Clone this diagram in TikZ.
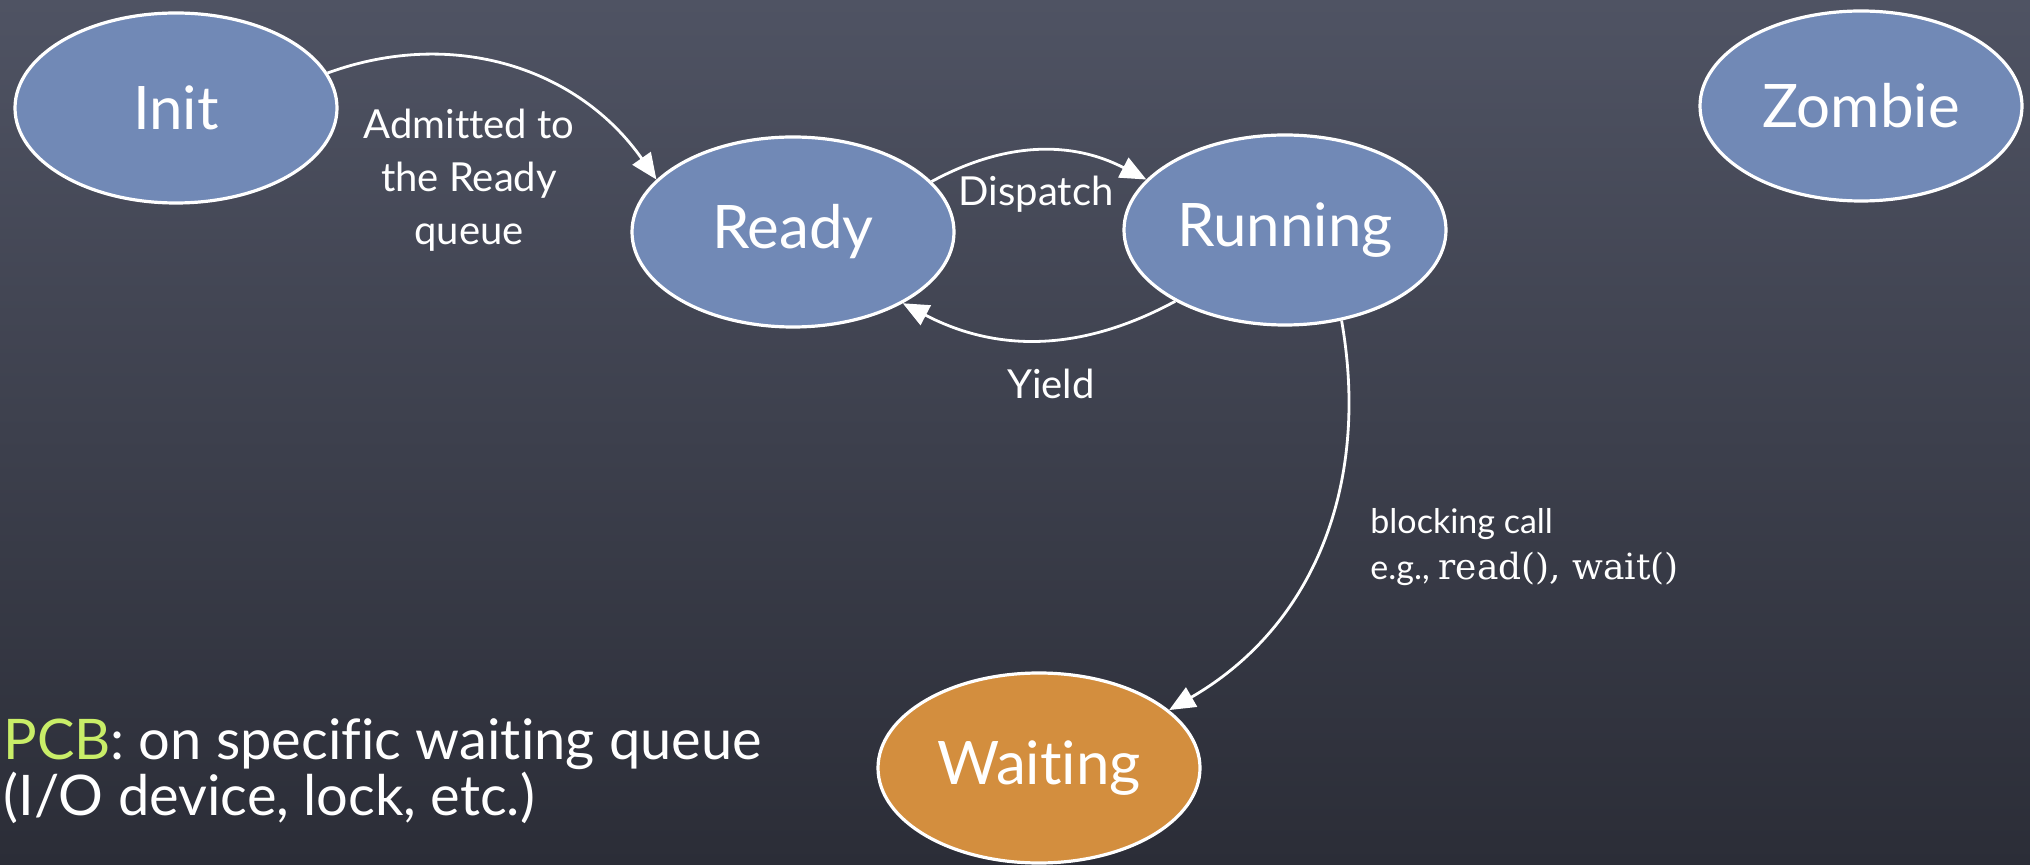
\documentclass[tikz,border=0pt]{standalone}
\usepackage{fontspec}
\setmainfont{Lato}[Ligatures={NoCommon}]
\newfontfamily\slabfont{DejaVu Serif}
\usetikzlibrary{arrows.meta,shapes.geometric}
\definecolor{bgtop}{HTML}{4F5363}
\definecolor{bgbot}{HTML}{2B2D37}
\definecolor{stateblue}{HTML}{7189B6}
\definecolor{waitorange}{HTML}{D38E3E}
\definecolor{pcbgreen}{HTML}{C9EE68}
\begin{document}
\begin{tikzpicture}[x=0.5pt,y=0.5pt,
  state/.style={ellipse, draw=white, line width=1.6pt, fill=stateblue, text=white,
    font=\fontsize{30}{36}\selectfont, inner sep=0pt,
    minimum width=161pt, minimum height=95pt},
  chalk/.style={draw=white, line width=1.4pt, -{Triangle[length=13pt,width=11pt]}},
  lbl/.style={text=white, font=\fontsize{20}{26.5}\selectfont, inner sep=1pt}]
\fill[top color=bgtop, bottom color=bgbot] (0,0) rectangle (2030,-865);
\useasboundingbox (0,0) rectangle (2030,-865);

\node[state] (init) at (176,-108) {Init};
\node[state] (ready) at (793,-232) {Ready};
\node[state] (running) at (1285,-230) {Running};
\node[state] (zombie) at (1861,-106) {Zombie};
\node[state, fill=waitorange] (waiting) at (1039,-768) {Waiting};

\draw[chalk] (init.13) to[out=20, in=125] (ready.159);
\draw[chalk] (ready.20) to[bend left=28] (running.160);
\draw[chalk] (running.-147) to[bend left=28] (ready.-33);
\draw[chalk] (running.-58) to[out=-80, in=30] (waiting.24);

\node[lbl, align=center] (admlbl) at (469,-180) {Admitted to\\the Ready\\queue};
\node[lbl] (displbl) at (1036,-194) {Dispatch};
\node[lbl] (yieldlbl) at (1051,-384) {Yield};
\node[lbl, align=left, anchor=west, font=\fontsize{17}{23}\selectfont] (blklbl) at (1368,-547)
  {blocking call\\e.g., {\slabfont\fontsize{18}{23}\selectfont read(), wait()}};
\node[anchor=north west, align=left, text=white, inner sep=0pt,
  font=\fontsize{28}{28}\selectfont] (pcb) at (3,-718)
  {\textcolor{pcbgreen}{PCB}: on specific waiting queue\\(I/O device, lock, etc.)};
\end{tikzpicture}
\end{document}
